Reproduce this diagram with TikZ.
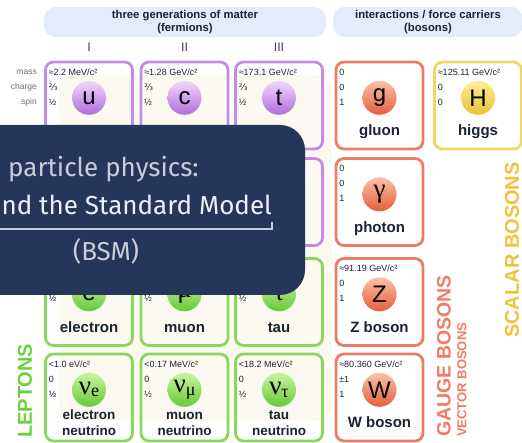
\documentclass[tikz,border=0pt]{standalone}
\usepackage{fontspec}
\setmainfont{Liberation Sans}
\newfontfamily\greekserif{Liberation Serif}
\newfontfamily\fracfont{DejaVu Sans}
\newfontfamily\bannerfont{Fira Sans}
\usepackage{xcolor}
\usetikzlibrary{positioning}

\definecolor{quarkline}{HTML}{C48AE6}
\definecolor{quarklight}{HTML}{F3D8FC}
\definecolor{quarkdark}{HTML}{B06CDA}
\definecolor{leptonline}{HTML}{86D95A}
\definecolor{leptonlight}{HTML}{C9F4A2}
\definecolor{leptondark}{HTML}{68C83A}
\definecolor{gaugeline}{HTML}{EE7C64}
\definecolor{gaugelight}{HTML}{FCC0A6}
\definecolor{gaugedark}{HTML}{E65E3C}
\definecolor{scalarline}{HTML}{F4D55E}
\definecolor{scalarlight}{HTML}{FCEE96}
\definecolor{scalardark}{HTML}{E9C234}
\definecolor{headfill}{HTML}{E4ECFA}
\definecolor{cream}{HTML}{FCFAF0}
\definecolor{creamline}{HTML}{EFE6D8}
\definecolor{inktext}{HTML}{1B2232}
\definecolor{rowgray}{HTML}{6E6E6E}
\definecolor{leptongreen}{HTML}{6CD03E}
\definecolor{gaugered}{HTML}{F27A68}
\definecolor{scalaryellow}{HTML}{F2C23E}
\definecolor{bannerblue}{HTML}{24365A}
\definecolor{bannergray}{HTML}{C8CDD7}
\definecolor{bannerwhite}{HTML}{EEF0F4}

% font sizes (1pt = 1px of the picture)
\newcommand{\smval}{\fontsize{9}{10}\selectfont}
\newcommand{\smrow}{\fontsize{8.5}{9}\selectfont}
\newcommand{\smname}{\bfseries\fontsize{15}{16}\selectfont}
\newcommand{\smnuname}{\bfseries\fontsize{13.5}{15}\selectfont}
\newcommand{\smsym}{\fontsize{24}{24}\selectfont}
\newcommand{\smgreek}{\fontsize{27}{27}\selectfont}
\newcommand{\smsub}{\fontsize{18}{18}\selectfont}
\newcommand{\smhead}{\bfseries\fontsize{11.3}{13}\selectfont}
\newcommand{\smgen}{\fontsize{12.5}{12.5}\selectfont}
\newcommand{\smbanner}{\bannerfont\fontsize{26}{26}\selectfont}

\begin{document}
\begin{tikzpicture}[x=1pt, y=-1pt,
    card/.style={draw, line width=2.8pt, rounded corners=8pt,
      minimum width=87pt, minimum height=87pt, inner sep=0pt},
    quark/.style={card, draw=quarkline},
    lepton/.style={card, draw=leptonline},
    gauge/.style={card, draw=gaugeline},
    scalar/.style={card, draw=scalarline},
    sym/.style={circle, minimum size=34pt, inner sep=0pt, text=black,
      font=\smsym, shading angle=45},
    qsym/.style={sym, top color=quarklight, bottom color=quarkdark},
    lsym/.style={sym, top color=leptonlight, bottom color=leptondark},
    gsym/.style={sym, top color=gaugelight, bottom color=gaugedark},
    hsym/.style={sym, top color=scalarlight, bottom color=scalardark},
    val/.style={anchor=west, inner sep=0pt, text=inktext, font=\smval},
    pname/.style={anchor=base, inner sep=0pt, text=inktext, font=\smname},
    nuname/.style={pname, align=center, font=\smnuname},
    rowlabel/.style={anchor=east, inner sep=0pt, text=rowgray, font=\smrow},
    gen/.style={inner sep=0pt, text=inktext!85, font=\smgen},
    header/.style={fill=headfill, rounded corners=12pt, minimum height=30pt,
      align=center, text=inktext, font=\smhead},
    sidelabel/.style={rotate=90, anchor=west, inner sep=0pt},
    bannertext/.style={inner sep=0pt, font=\smbanner}]
  \clip (0,0) rectangle (522,443);
  \useasboundingbox (0,0) rectangle (522,443);

  % headers
  \node[header, minimum width=282pt] (fermhead) at (185,22)
    {three generations of matter\\(fermions)};
  \node[header, minimum width=190pt] (boshead) at (428,22)
    {interactions / force carriers\\(bosons)};

  % pale field behind the fermions
  \fill[cream, draw=creamline, rounded corners=16pt] (60,76) rectangle (331,420);

  \node[rowlabel] (masslab) at (37,72) {mass};
  \node[rowlabel] (chargelab) at (37,87) {charge};
  \node[rowlabel] (spinlab) at (37,102) {spin};

  % row 1
  \node[quark] (u) at (89,105.5) {};
  \node[quark] (c) at (184.5,105.5) {};
  \node[quark] (t) at (279,105.5) {};
  \node[gauge] (g) at (379.5,105.5) {};
  \node[scalar] (H) at (478,105.5) {};
  \node[gen, above=9pt of u] (gen1) {I};
  \node[gen, above=9pt of c] (gen2) {II};
  \node[gen, above=9pt of t] (gen3) {III};

  \node[val] at ([xshift=4.5pt,yshift=-11.4pt]u.north west) {≈2.2 MeV/c²};
  \node[val] at ([xshift=4.5pt,yshift=-26.4pt]u.north west) {\fracfont ⅔};
  \node[val] at ([xshift=4.5pt,yshift=-41.4pt]u.north west) {½};
  \node[qsym, below=20pt of u.north] (usym) {u};

  \node[val] at ([xshift=4.5pt,yshift=-11.4pt]c.north west) {≈1.28 GeV/c²};
  \node[val] at ([xshift=4.5pt,yshift=-26.4pt]c.north west) {\fracfont ⅔};
  \node[val] at ([xshift=4.5pt,yshift=-41.4pt]c.north west) {½};
  \node[qsym, below=20pt of c.north] (csym) {c};

  \node[val] at ([xshift=4.5pt,yshift=-11.4pt]t.north west) {≈173.1 GeV/c²};
  \node[val] at ([xshift=4.5pt,yshift=-26.4pt]t.north west) {\fracfont ⅔};
  \node[val] at ([xshift=4.5pt,yshift=-41.4pt]t.north west) {½};
  \node[qsym, below=20pt of t.north] (tsym) {t};

  \node[val] at ([xshift=4.5pt,yshift=-11.4pt]g.north west) {0};
  \node[val] at ([xshift=4.5pt,yshift=-26.4pt]g.north west) {0};
  \node[val] at ([xshift=4.5pt,yshift=-41.4pt]g.north west) {1};
  \node[gsym, below=20pt of g.north] (gsym) {g};
  \node[pname] at ([yshift=-75.4pt]g.north) {gluon};

  \node[val] at ([xshift=4.5pt,yshift=-11.4pt]H.north west) {≈125.11 GeV/c²};
  \node[val] at ([xshift=4.5pt,yshift=-26.4pt]H.north west) {0};
  \node[val] at ([xshift=4.5pt,yshift=-41.4pt]H.north west) {0};
  \node[hsym, below=20pt of H.north] (Hsym) {H};
  \node[pname] at ([yshift=-75.4pt]H.north) {higgs};

  % row 2
  \node[quark] (d) at (89,202) {};
  \node[quark] (s) at (184.5,202) {};
  \node[quark] (b) at (279,202) {};
  \node[gauge] (photon) at (379.5,202) {};
  \node[val] at ([xshift=4.5pt,yshift=-11.4pt]photon.north west) {0};
  \node[val] at ([xshift=4.5pt,yshift=-26.4pt]photon.north west) {0};
  \node[val] at ([xshift=4.5pt,yshift=-41.4pt]photon.north west) {1};
  \node[gsym, below=20pt of photon.north] (photonsym) {\greekserif\smgreek γ};
  \node[pname] at ([yshift=-75.4pt]photon.north) {photon};

  % row 3
  \node[lepton] (e) at (89,302) {};
  \node[lepton] (mu) at (184.5,302) {};
  \node[lepton] (tau) at (279,302) {};
  \node[gauge] (Z) at (379.5,302) {};

  \node[val] at ([xshift=4.5pt,yshift=-41.4pt]e.north west) {½};
  \node[lsym, below=20pt of e.north] (esym) {e};
  \node[pname] at ([yshift=-75.4pt]e.north) {electron};

  \node[val] at ([xshift=4.5pt,yshift=-41.4pt]mu.north west) {½};
  \node[lsym, below=20pt of mu.north] (musym) {\greekserif\smgreek μ};
  \node[pname] at ([yshift=-75.4pt]mu.north) {muon};

  \node[val] at ([xshift=4.5pt,yshift=-41.4pt]tau.north west) {½};
  \node[lsym, below=20pt of tau.north] (tausym) {\greekserif\smgreek τ};
  \node[pname] at ([yshift=-75.4pt]tau.north) {tau};

  \node[val] at ([xshift=4.5pt,yshift=-11.4pt]Z.north west) {≈91.19 GeV/c²};
  \node[val] at ([xshift=4.5pt,yshift=-26.4pt]Z.north west) {0};
  \node[val] at ([xshift=4.5pt,yshift=-41.4pt]Z.north west) {1};
  \node[gsym, below=20pt of Z.north] (Zsym) {Z};
  \node[pname] at ([yshift=-75.4pt]Z.north) {Z boson};

  % row 4
  \node[lepton] (nue) at (89,397.5) {};
  \node[lepton] (numu) at (184.5,397.5) {};
  \node[lepton] (nutau) at (279,397.5) {};
  \node[gauge] (W) at (379.5,397.5) {};

  \node[val] at ([xshift=4.5pt,yshift=-11.4pt]nue.north west) {<1.0 eV/c²};
  \node[val] at ([xshift=4.5pt,yshift=-26.4pt]nue.north west) {0};
  \node[val] at ([xshift=4.5pt,yshift=-41.4pt]nue.north west) {½};
  \node[lsym, below=20pt of nue.north] (nuesym)
    {\greekserif\smgreek ν\raisebox{-2pt}{\smsub e}};
  \node[nuname] at ([yshift=-82.4pt]nue.north) {electron\\neutrino};

  \node[val] at ([xshift=4.5pt,yshift=-11.4pt]numu.north west) {<0.17 MeV/c²};
  \node[val] at ([xshift=4.5pt,yshift=-26.4pt]numu.north west) {0};
  \node[val] at ([xshift=4.5pt,yshift=-41.4pt]numu.north west) {½};
  \node[lsym, below=20pt of numu.north] (numusym)
    {\greekserif\smgreek ν\raisebox{-3pt}{\smsub μ}};
  \node[nuname] at ([yshift=-82.4pt]numu.north) {muon\\neutrino};

  \node[val] at ([xshift=4.5pt,yshift=-11.4pt]nutau.north west) {<18.2 MeV/c²};
  \node[val] at ([xshift=4.5pt,yshift=-26.4pt]nutau.north west) {0};
  \node[val] at ([xshift=4.5pt,yshift=-41.4pt]nutau.north west) {½};
  \node[lsym, below=20pt of nutau.north] (nutausym)
    {\greekserif\smgreek ν\raisebox{-3pt}{\smsub τ}};
  \node[nuname] at ([yshift=-82.4pt]nutau.north) {tau\\neutrino};

  \node[val] at ([xshift=4.5pt,yshift=-11.4pt]W.north west) {≈80.360 GeV/c²};
  \node[val] at ([xshift=4.5pt,yshift=-26.4pt]W.north west) {±1};
  \node[val] at ([xshift=4.5pt,yshift=-41.4pt]W.north west) {1};
  \node[gsym, below=20pt of W.north] (Wsym) {W};
  \node[pname] at ([yshift=-75.4pt]W.north) {W boson};

  % group labels
  \node[sidelabel, text=leptongreen, font=\bfseries\fontsize{20}{20}\selectfont]
    (leptons) at (25,438) {LEPTONS};
  \node[sidelabel, text=gaugered, font=\bfseries\fontsize{19.5}{20}\selectfont]
    (gaugelab) at (444,437) {GAUGE BOSONS};
  \node[sidelabel, text=gaugered, font=\bfseries\fontsize{13}{13}\selectfont]
    (vectorlab) at (462,437) {VECTOR BOSONS};
  \node[sidelabel, text=scalaryellow, font=\bfseries\fontsize{20}{20}\selectfont]
    (scalarlab) at (512,338) {SCALAR BOSONS};

  % title banner on top
  \fill[bannerblue, rounded corners=25pt] (-40,125) rectangle (305,295);
  \node[bannertext, anchor=west, text=bannergray] (bline1) at (8,169)
    {particle physics:};
  \node[bannertext, anchor=east, text=bannerwhite] (bline2) at (272,205)
    {nd the Standard Model};
  \draw[bannergray, line width=1.3pt] (-5,229) -| (272,222);
  \node[bannertext, text=bannergray] (bsm) at (106,251) {(BSM)};
\end{tikzpicture}
\end{document}
